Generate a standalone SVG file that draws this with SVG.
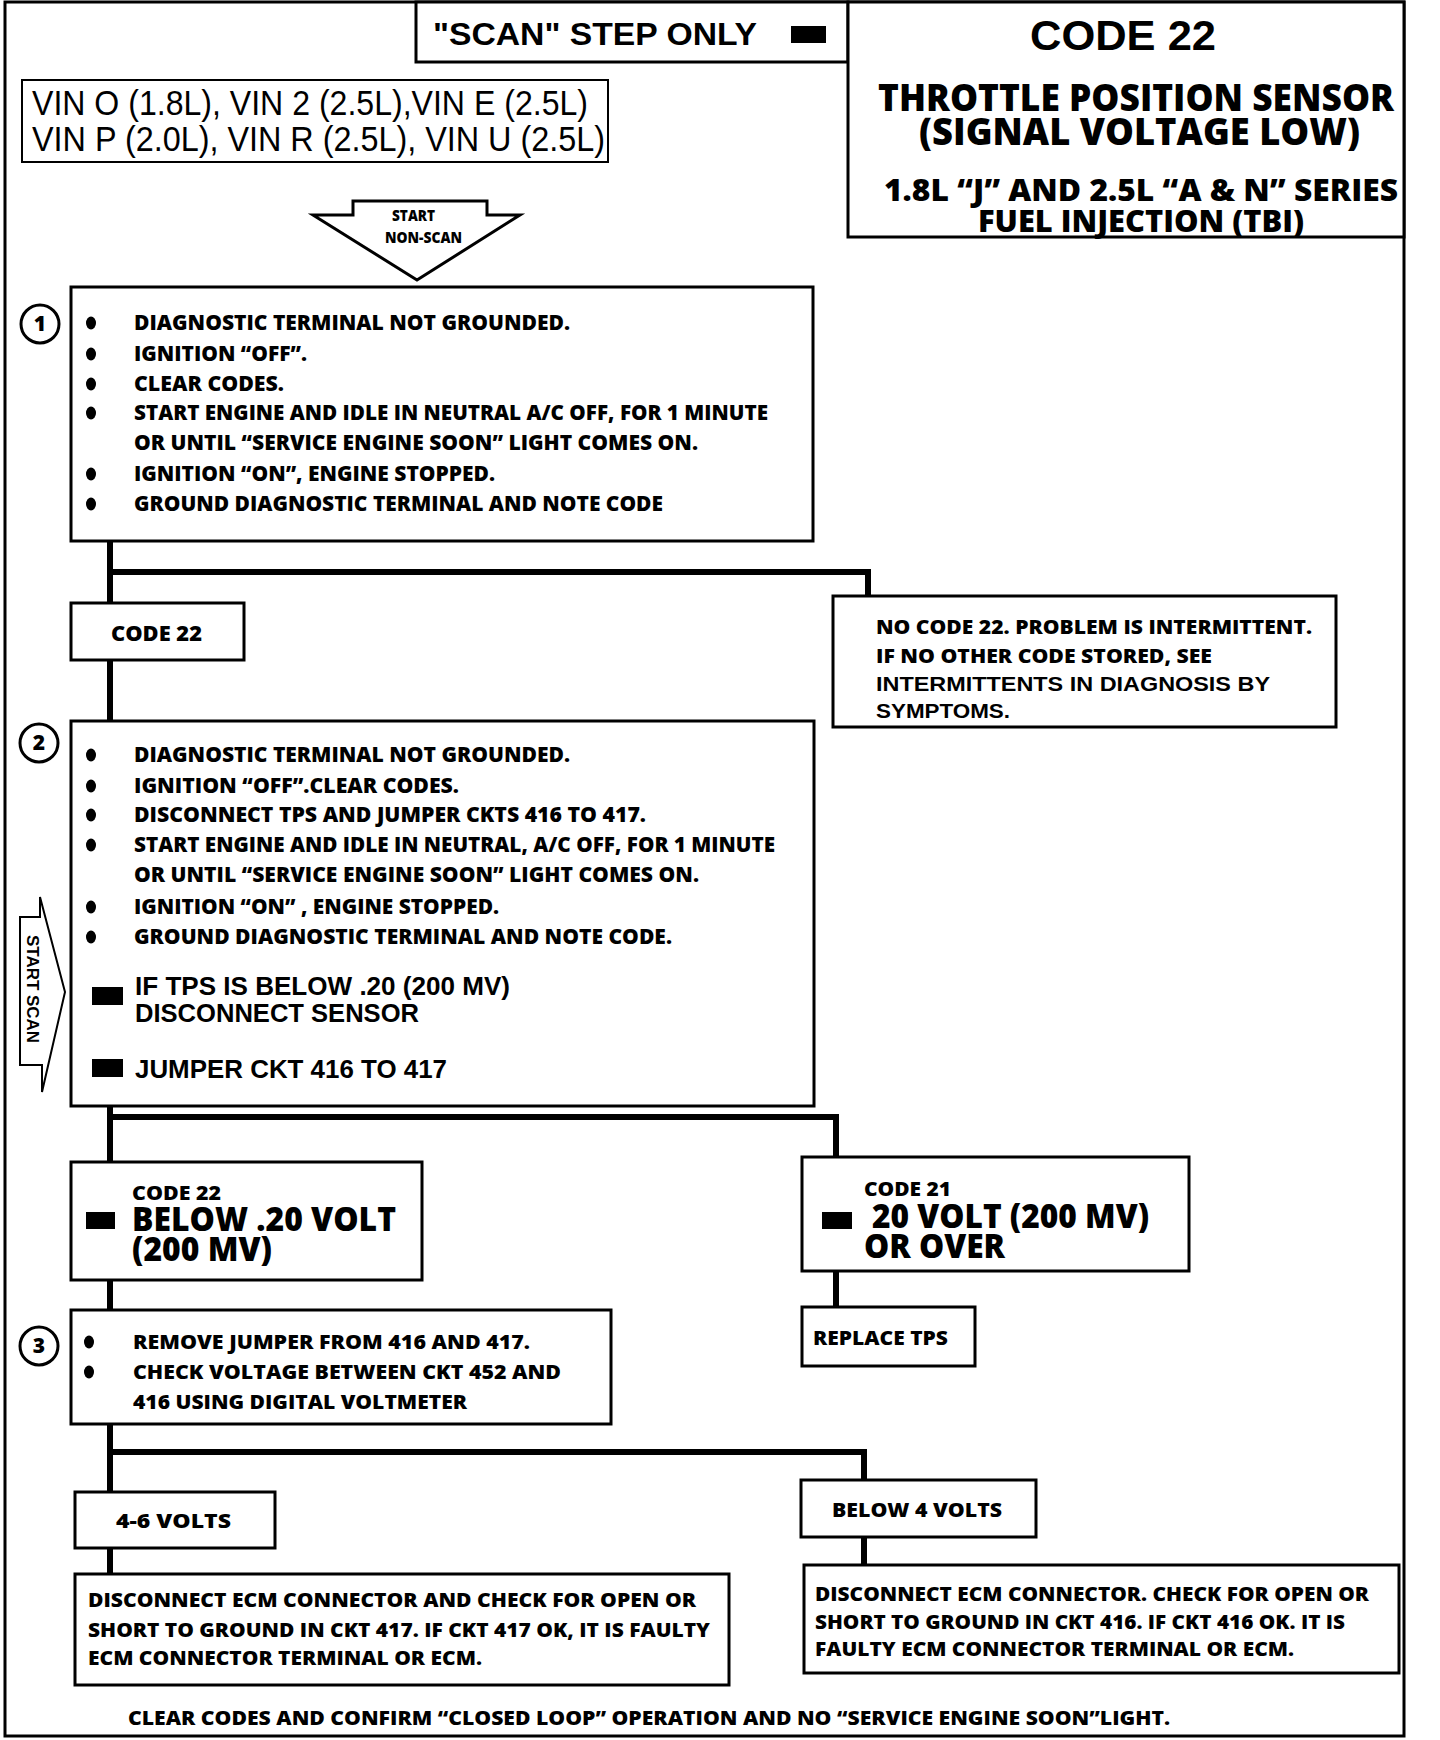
<svg xmlns="http://www.w3.org/2000/svg" width="1440" height="1740" viewBox="0 0 1440 1740">
<style>
.f{font-family:"Open Sans","Noto Sans",sans-serif;font-weight:800;fill:#000}
.h{font-family:"Liberation Sans",Arial,sans-serif;fill:#000}
.hb{font-family:"Liberation Sans",Arial,sans-serif;font-weight:700;fill:#000}
.box{fill:#fff;stroke:#000;stroke-width:3}
.conn{stroke:#000;stroke-width:6;fill:none}
.t20{font-size:20px}
.t21{font-size:21px}
.big{font-size:33px}
.num{font-family:"Open Sans","Noto Sans",sans-serif;font-weight:800;font-size:21px}
</style>
<rect x="0" y="0" width="1440" height="1740" fill="#fff"/>
<rect x="5" y="2" width="1399" height="1734" fill="none" stroke="#000" stroke-width="3"/>

<g id="scan-step">
<rect class="box" x="416" y="2" width="432" height="60"/>
<text class="hb" x="433" y="45" font-size="32" textLength="324" lengthAdjust="spacingAndGlyphs">"SCAN" STEP ONLY</text>
<rect x="791" y="26" width="35" height="17" fill="#000"/>
</g>

<g id="header">
<rect class="box" x="848" y="2" width="556" height="235"/>
<text class="hb" x="1030" y="50" font-size="42" textLength="186" lengthAdjust="spacingAndGlyphs">CODE 22</text>
<text class="f" x="878" y="111" font-size="37" textLength="516" lengthAdjust="spacingAndGlyphs">THROTTLE POSITION SENSOR</text>
<text class="f" x="919" y="145" font-size="37" textLength="441" lengthAdjust="spacingAndGlyphs">(SIGNAL VOLTAGE LOW)</text>
<text class="f" x="884" y="201" font-size="30" textLength="514" lengthAdjust="spacingAndGlyphs">1.8L “J” AND 2.5L “A &amp; N” SERIES</text>
<text class="f" x="978" y="232" font-size="30" textLength="326" lengthAdjust="spacingAndGlyphs">FUEL INJECTION (TBI)</text>
</g>

<g id="vin">
<rect x="22" y="80" width="586" height="82" fill="#fff" stroke="#000" stroke-width="2"/>
<text class="h" x="32" y="115" font-size="35" textLength="556" lengthAdjust="spacingAndGlyphs">VIN O (1.8L), VIN 2 (2.5L),VIN E (2.5L)</text>
<text class="h" x="32" y="151" font-size="35" textLength="573" lengthAdjust="spacingAndGlyphs">VIN P (2.0L), VIN  R (2.5L), VIN U (2.5L)</text>
</g>

<g id="start-non-scan">
<polygon points="353,201 487,201 487,215 520,215 417,280 313,215 353,215" fill="#fff" stroke="#000" stroke-width="3" stroke-linejoin="miter"/>
<text class="f" x="392" y="221" font-size="16" textLength="43" lengthAdjust="spacingAndGlyphs">START</text>
<text class="f" x="385" y="243" font-size="16" textLength="77" lengthAdjust="spacingAndGlyphs">NON-SCAN</text>
</g>

<g id="connectors">
<line class="conn" x1="110" y1="541" x2="110" y2="603"/>
<line class="conn" x1="107" y1="572" x2="871" y2="572"/>
<line class="conn" x1="868" y1="569" x2="868" y2="596" stroke-width="4"/>
<line class="conn" x1="110" y1="660" x2="110" y2="720"/>
<line class="conn" x1="110" y1="1106" x2="110" y2="1162"/>
<line class="conn" x1="107" y1="1117" x2="839" y2="1117"/>
<line class="conn" x1="836" y1="1114" x2="836" y2="1157" stroke-width="4"/>
<line class="conn" x1="836" y1="1271" x2="836" y2="1307" stroke-width="5"/>
<line class="conn" x1="110" y1="1280" x2="110" y2="1310"/>
<line class="conn" x1="110" y1="1424" x2="110" y2="1492"/>
<line class="conn" x1="107" y1="1452" x2="867" y2="1452" stroke-width="8"/>
<line class="conn" x1="864" y1="1449" x2="864" y2="1480" stroke-width="5"/>
<line class="conn" x1="110" y1="1548" x2="110" y2="1574"/>
<line class="conn" x1="864" y1="1537" x2="864" y2="1565" stroke-width="5"/>
</g>

<g id="step1">
<rect class="box" x="71" y="287" width="742" height="254"/>
<circle cx="40" cy="324" r="19" fill="#fff" stroke="#000" stroke-width="3"/>
<text class="num" x="40" y="331" text-anchor="middle">1</text>
<g fill="#000">
<ellipse cx="91" cy="323" rx="5" ry="6.5"/>
<ellipse cx="91" cy="354" rx="5" ry="6.5"/>
<ellipse cx="91" cy="384" rx="5" ry="6.5"/>
<ellipse cx="91" cy="413" rx="5" ry="6.5"/>
<ellipse cx="91" cy="474" rx="5" ry="6.5"/>
<ellipse cx="91" cy="504" rx="5" ry="6.5"/>
</g>
<text class="f t21" x="134" y="330" textLength="436" lengthAdjust="spacingAndGlyphs">DIAGNOSTIC TERMINAL NOT GROUNDED.</text>
<text class="f t21" x="134" y="361" textLength="173" lengthAdjust="spacingAndGlyphs">IGNITION “OFF”.</text>
<text class="f t21" x="134" y="391" textLength="150" lengthAdjust="spacingAndGlyphs">CLEAR CODES.</text>
<text class="f t21" x="134" y="420" textLength="634" lengthAdjust="spacingAndGlyphs">START ENGINE AND IDLE IN NEUTRAL A/C OFF, FOR 1 MINUTE</text>
<text class="f t21" x="134" y="450" textLength="564" lengthAdjust="spacingAndGlyphs">OR UNTIL “SERVICE ENGINE SOON” LIGHT COMES ON.</text>
<text class="f t21" x="134" y="481" textLength="361" lengthAdjust="spacingAndGlyphs">IGNITION “ON”, ENGINE STOPPED.</text>
<text class="f t21" x="134" y="511" textLength="529" lengthAdjust="spacingAndGlyphs">GROUND DIAGNOSTIC TERMINAL AND NOTE CODE</text>
</g>

<g id="code22">
<rect class="box" x="71" y="603" width="173" height="57"/>
<text class="f t21" x="111" y="641" textLength="91" lengthAdjust="spacingAndGlyphs">CODE 22</text>
</g>

<g id="no-code22">
<rect class="box" x="833" y="596" width="503" height="131"/>
<text class="f t20" x="876" y="634" textLength="436" lengthAdjust="spacingAndGlyphs">NO CODE 22. PROBLEM IS INTERMITTENT.</text>
<text class="f t20" x="876" y="663" textLength="336" lengthAdjust="spacingAndGlyphs">IF NO OTHER CODE STORED, SEE</text>
<text class="hb" x="876" y="691" font-size="20" textLength="394" lengthAdjust="spacingAndGlyphs">INTERMITTENTS  IN  DIAGNOSIS  BY</text>
<text class="hb" x="876" y="718" font-size="20" textLength="134" lengthAdjust="spacingAndGlyphs">SYMPTOMS.</text>
</g>

<g id="start-scan">
<polygon points="20,917 40,917 40,897 65,992 42,1092 42,1065 20,1065" fill="#fff" stroke="#000" stroke-width="2"/>
<text class="hb" font-size="17" transform="translate(27,935) rotate(90)" textLength="108" lengthAdjust="spacingAndGlyphs">START SCAN</text>
</g>

<g id="step2">
<rect class="box" x="71" y="721" width="743" height="385"/>
<circle cx="39" cy="743" r="19" fill="#fff" stroke="#000" stroke-width="3"/>
<text class="num" x="39" y="750" text-anchor="middle">2</text>
<g fill="#000">
<ellipse cx="91" cy="755" rx="5" ry="6.5"/>
<ellipse cx="91" cy="786" rx="5" ry="6.5"/>
<ellipse cx="91" cy="815" rx="5" ry="6.5"/>
<ellipse cx="91" cy="845" rx="5" ry="6.5"/>
<ellipse cx="91" cy="907" rx="5" ry="6.5"/>
<ellipse cx="91" cy="937" rx="5" ry="6.5"/>
<rect x="92" y="987" width="31" height="18"/>
<rect x="92" y="1059" width="31" height="18"/>
</g>
<text class="f t21" x="134" y="762" textLength="436" lengthAdjust="spacingAndGlyphs">DIAGNOSTIC TERMINAL NOT GROUNDED.</text>
<text class="f t21" x="134" y="793" textLength="325" lengthAdjust="spacingAndGlyphs">IGNITION “OFF”.CLEAR CODES.</text>
<text class="f t21" x="134" y="822" textLength="512" lengthAdjust="spacingAndGlyphs">DISCONNECT TPS AND JUMPER CKTS 416 TO 417.</text>
<text class="f t21" x="134" y="852" textLength="641" lengthAdjust="spacingAndGlyphs">START ENGINE AND IDLE IN NEUTRAL, A/C OFF, FOR 1 MINUTE</text>
<text class="f t21" x="134" y="882" textLength="565" lengthAdjust="spacingAndGlyphs">OR UNTIL “SERVICE ENGINE SOON” LIGHT COMES ON.</text>
<text class="f t21" x="134" y="914" textLength="365" lengthAdjust="spacingAndGlyphs">IGNITION “ON” , ENGINE STOPPED.</text>
<text class="f t21" x="134" y="944" textLength="538" lengthAdjust="spacingAndGlyphs">GROUND DIAGNOSTIC TERMINAL AND NOTE CODE.</text>
<text class="hb" x="135" y="995" font-size="25" textLength="375" lengthAdjust="spacingAndGlyphs">IF TPS IS BELOW .20 (200 MV)</text>
<text class="hb" x="135" y="1022" font-size="25" textLength="284" lengthAdjust="spacingAndGlyphs">DISCONNECT SENSOR</text>
<text class="hb" x="135" y="1078" font-size="26" textLength="312" lengthAdjust="spacingAndGlyphs">JUMPER CKT 416 TO 417</text>
</g>

<g id="code22-below">
<rect class="box" x="71" y="1162" width="351" height="118"/>
<text class="f t20" x="132" y="1200" textLength="89" lengthAdjust="spacingAndGlyphs">CODE 22</text>
<rect x="86" y="1212" width="29" height="17" fill="#000"/>
<text class="f big" x="132" y="1231" textLength="264" lengthAdjust="spacingAndGlyphs">BELOW .20 VOLT</text>
<text class="f big" x="132" y="1261" textLength="140" lengthAdjust="spacingAndGlyphs">(200 MV)</text>
</g>

<g id="code21">
<rect class="box" x="802" y="1157" width="387" height="114"/>
<text class="f t20" x="864" y="1196" textLength="87" lengthAdjust="spacingAndGlyphs">CODE 21</text>
<rect x="822" y="1212" width="30" height="17" fill="#000"/>
<text class="f big" x="872" y="1228" textLength="277" lengthAdjust="spacingAndGlyphs">20 VOLT (200 MV)</text>
<text class="f big" x="864" y="1258" textLength="141" lengthAdjust="spacingAndGlyphs">OR OVER</text>
</g>

<g id="replace-tps">
<rect class="box" x="802" y="1307" width="173" height="59"/>
<text class="f t20" x="813" y="1345" textLength="135" lengthAdjust="spacingAndGlyphs">REPLACE TPS</text>
</g>

<g id="step3">
<rect class="box" x="71" y="1310" width="540" height="114"/>
<circle cx="39" cy="1346" r="19" fill="#fff" stroke="#000" stroke-width="3"/>
<text class="num" x="39" y="1353" text-anchor="middle">3</text>
<g fill="#000">
<ellipse cx="89" cy="1342" rx="5" ry="6.5"/>
<ellipse cx="89" cy="1372" rx="5" ry="6.5"/>
</g>
<text class="f t20" x="133" y="1349" textLength="397" lengthAdjust="spacingAndGlyphs">REMOVE JUMPER FROM 416 AND 417.</text>
<text class="f t20" x="133" y="1379" textLength="428" lengthAdjust="spacingAndGlyphs">CHECK VOLTAGE BETWEEN CKT 452 AND</text>
<text class="f t20" x="133" y="1409" textLength="334" lengthAdjust="spacingAndGlyphs">416 USING DIGITAL VOLTMETER</text>
</g>

<g id="volts-4-6">
<rect class="box" x="75" y="1492" width="200" height="56"/>
<text class="f t20" x="116" y="1528" textLength="115" lengthAdjust="spacingAndGlyphs">4-6 VOLTS</text>
</g>

<g id="below-4-volts">
<rect class="box" x="801" y="1480" width="235" height="57"/>
<text class="f t20" x="832" y="1517" textLength="170" lengthAdjust="spacingAndGlyphs">BELOW 4 VOLTS</text>
</g>

<g id="ckt417">
<rect class="box" x="75" y="1574" width="654" height="111"/>
<text class="f t20" x="88" y="1607" textLength="608" lengthAdjust="spacingAndGlyphs">DISCONNECT ECM CONNECTOR AND CHECK FOR OPEN OR</text>
<text class="f t20" x="88" y="1637" textLength="622" lengthAdjust="spacingAndGlyphs">SHORT TO GROUND IN CKT 417. IF CKT 417 OK, IT IS FAULTY</text>
<text class="f t20" x="88" y="1665" textLength="394" lengthAdjust="spacingAndGlyphs">ECM CONNECTOR TERMINAL OR ECM.</text>
</g>

<g id="ckt416">
<rect class="box" x="804" y="1565" width="595" height="108"/>
<text class="f t20" x="815" y="1601" textLength="554" lengthAdjust="spacingAndGlyphs">DISCONNECT ECM CONNECTOR. CHECK FOR OPEN OR</text>
<text class="f t20" x="815" y="1629" textLength="530" lengthAdjust="spacingAndGlyphs">SHORT TO GROUND IN CKT 416. IF CKT 416 OK. IT IS</text>
<text class="f t20" x="815" y="1656" textLength="479" lengthAdjust="spacingAndGlyphs">FAULTY ECM CONNECTOR TERMINAL OR ECM.</text>
</g>

<g id="footer">
<text class="f t20" x="128" y="1725" textLength="1042" lengthAdjust="spacingAndGlyphs">CLEAR CODES AND CONFIRM “CLOSED LOOP” OPERATION AND NO “SERVICE ENGINE SOON”LIGHT.</text>
</g>
</svg>
